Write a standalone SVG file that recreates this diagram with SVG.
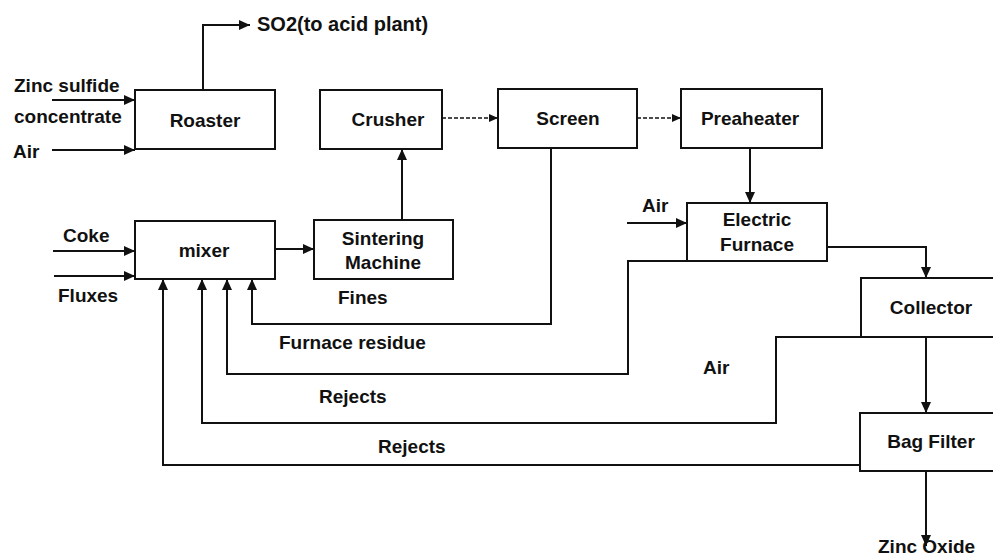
<svg xmlns="http://www.w3.org/2000/svg" width="993" height="556" viewBox="0 0 993 556">
<style>
  .box { fill: #ffffff; stroke: #111111; stroke-width: 2; }
  .t { font-family: "Liberation Sans", Arial, sans-serif; font-size: 19px; font-weight: bold; fill: #111111; }
  .c { text-anchor: middle; }
  .ln { fill: none; stroke: #111111; stroke-width: 2; }
  .dash { fill: none; stroke: #111111; stroke-width: 1.3; stroke-dasharray: 4 2; }
</style>
<defs>
  <marker id="ah" markerUnits="userSpaceOnUse" markerWidth="12" markerHeight="10" refX="11" refY="5" orient="auto">
    <path d="M0,0 L11,5 L0,10 z" fill="#111111"/>
  </marker>
  <marker id="ahs" markerUnits="userSpaceOnUse" markerWidth="10" markerHeight="8" refX="9" refY="4" orient="auto">
    <path d="M0,0 L9,4 L0,8 z" fill="#111111"/>
  </marker>
</defs>
<rect width="993" height="556" fill="#ffffff"/>

<g id="connectors">
  <path class="ln" d="M203,90 V25 H250" marker-end="url(#ah)"/>
  <path class="ln" d="M52,100 H135" marker-end="url(#ah)"/>
  <path class="ln" d="M52,150 H135" marker-end="url(#ah)"/>
  <path class="ln" d="M53,251 H135" marker-end="url(#ah)"/>
  <path class="ln" d="M54,276 H135" marker-end="url(#ah)"/>
  <path class="ln" d="M275,249 H314" marker-end="url(#ah)"/>
  <path class="ln" d="M402,220 V149" marker-end="url(#ah)"/>
  <path class="dash" d="M442,118 H498" marker-end="url(#ahs)"/>
  <path class="dash" d="M637,118 H681" marker-end="url(#ahs)"/>
  <path class="ln" d="M750,148 V203" marker-end="url(#ah)"/>
  <path class="ln" d="M627,223 H687" marker-end="url(#ah)"/>
  <path class="ln" d="M827,247 H926 V278" marker-end="url(#ah)"/>
  <path class="ln" d="M926,337 V413" marker-end="url(#ah)"/>
  <path class="ln" d="M926,471 V546" marker-end="url(#ah)"/>
  <path class="ln" d="M551,148 V324 H252 V279" marker-end="url(#ah)"/>
  <path class="ln" d="M687,261 H628 V374 H227 V279" marker-end="url(#ah)"/>
  <path class="ln" d="M861,337 H776 V423 H202 V279" marker-end="url(#ah)"/>
  <path class="ln" d="M860,465 H163 V279" marker-end="url(#ah)"/>
</g>

<g id="roaster">
  <rect class="box" x="135" y="90" width="140" height="59"/>
  <text class="t c" x="205" y="127">Roaster</text>
</g>
<g id="crusher">
  <rect class="box" x="320" y="90" width="122" height="59"/>
  <text class="t c" x="388" y="126">Crusher</text>
</g>
<g id="screen">
  <rect class="box" x="498" y="89" width="139" height="59"/>
  <text class="t c" x="568" y="125">Screen</text>
</g>
<g id="preheater">
  <rect class="box" x="681" y="89" width="141" height="59"/>
  <text class="t c" x="750" y="125">Preaheater</text>
</g>
<g id="electric-furnace">
  <rect class="box" x="687" y="203" width="140" height="58"/>
  <text class="t c" x="757" y="226">Electric</text>
  <text class="t c" x="757" y="251">Furnace</text>
</g>
<g id="mixer">
  <rect class="box" x="135" y="221" width="140" height="58"/>
  <text class="t c" x="204" y="257">mixer</text>
</g>
<g id="sintering-machine">
  <rect class="box" x="314" y="220" width="139" height="59"/>
  <text class="t c" x="383" y="245">Sintering</text>
  <text class="t c" x="383" y="269">Machine</text>
</g>
<g id="collector">
  <rect class="box" x="861" y="278" width="140" height="59"/>
  <text class="t c" x="931" y="314">Collector</text>
</g>
<g id="bag-filter">
  <rect class="box" x="860" y="413" width="141" height="58"/>
  <text class="t c" x="931" y="448">Bag Filter</text>
</g>

<g id="labels">
  <text class="t" x="257" y="31" style="font-size:20px">SO2(to acid plant)</text>
  <text class="t" x="14" y="92">Zinc sulfide</text>
  <text class="t" x="14" y="123">concentrate</text>
  <text class="t" x="13" y="158">Air</text>
  <text class="t" x="63" y="242">Coke</text>
  <text class="t" x="58" y="302">Fluxes</text>
  <text class="t" x="338" y="304">Fines</text>
  <text class="t" x="279" y="349">Furnace residue</text>
  <text class="t" x="319" y="403">Rejects</text>
  <text class="t" x="378" y="453">Rejects</text>
  <text class="t" x="642" y="212">Air</text>
  <text class="t" x="703" y="374">Air</text>
  <text class="t" x="878" y="553">Zinc Oxide</text>
</g>
</svg>
